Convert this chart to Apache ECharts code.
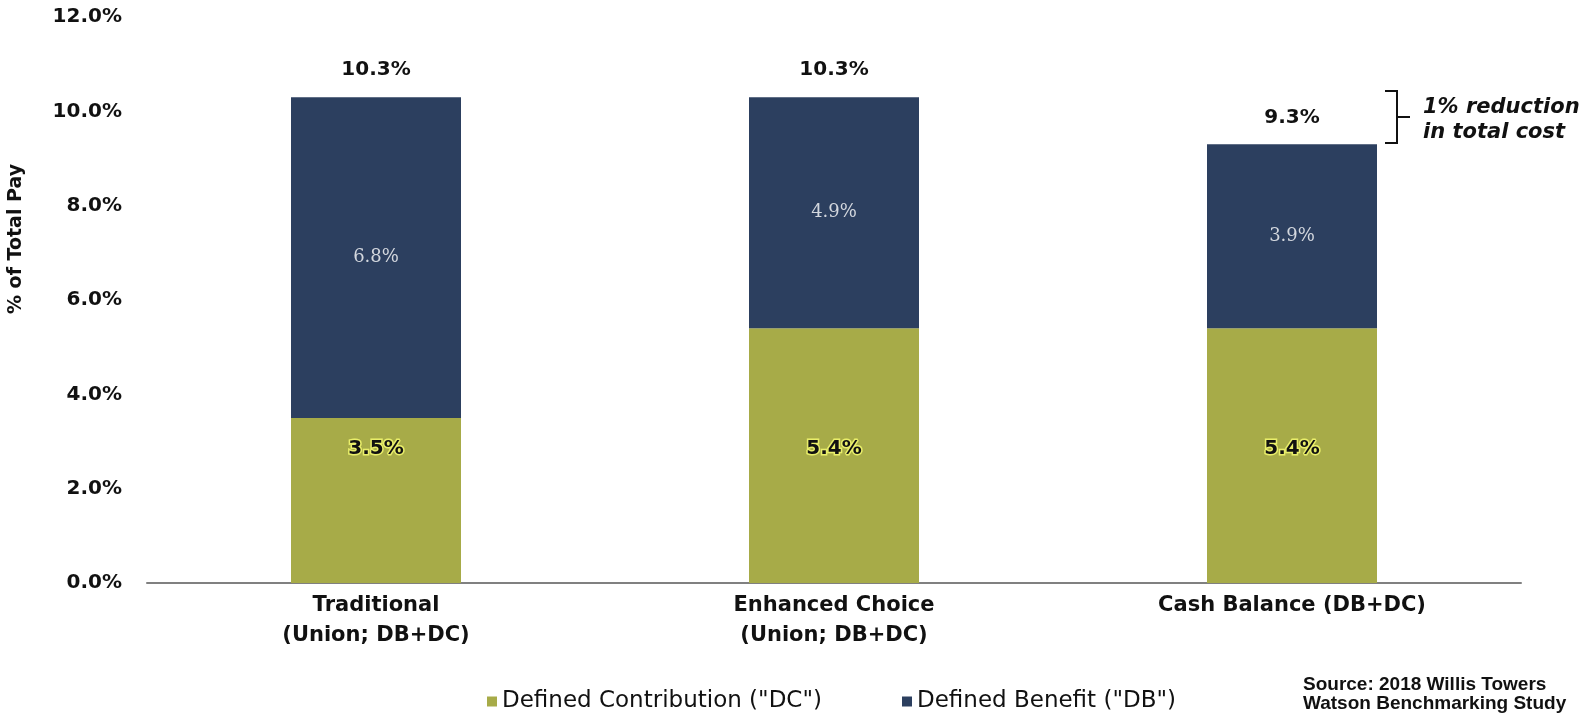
<!DOCTYPE html>
<html>
<head>
<meta charset="utf-8">
<script src="https://cdn.jsdelivr.net/npm/echarts@6/dist/echarts.min.js"></script>
<style>
html,body{margin:0;padding:0;background:#fff;}
#chart{width:1591px;height:719px;}
</style>
</head>
<body>
<div id="chart"></div>
<script>
const categories = ['Traditional\n(Union; DB+DC)', 'Enhanced Choice\n(Union; DB+DC)', 'Cash Balance (DB+DC)'];
const dcValues = [3.5, 5.4, 5.4];
const dbValues = [6.8, 4.9, 3.9];
const yTicks = [0, 2, 4, 6, 8, 10, 12];
const legendNames = ['Defined Contribution ("DC")', 'Defined Benefit ("DB")'];
const annotationLines = ['1% reduction', 'in total cost'];
const sourceLines = ['Source: 2018 Willis Towers', 'Watson Benchmarking Study'];
const axisTitle = '% of Total Pay';

const totals = dcValues.map((v, i) => +(v + dbValues[i]).toFixed(1));

const NAVY = '#2c3f5f';
const OLIVE = '#a7ab48';
const FONT = 'DejaVu Sans';

const chart = echarts.init(document.getElementById('chart'), null, {renderer: 'canvas'});
chart.setOption({
  animation: false,
  backgroundColor: '#ffffff',
  grid: {left: 147, right: 70, top: 17, bottom: 136, containLabel: false},
  legend: {
    data: legendNames,
    left: 482, top: 685,
    itemWidth: 10, itemHeight: 10, itemGap: 80,
    icon: 'rect',
    textStyle: {fontFamily: FONT, fontSize: 23, color: '#111'}
  },
  xAxis: {
    type: 'category',
    data: categories,
    axisLine: {show: true, lineStyle: {color: '#808080', width: 2}},
    axisTick: {show: false},
    axisLabel: {
      margin: 8, fontFamily: FONT, fontWeight: 'bold', fontSize: 21,
      lineHeight: 30, color: '#111', interval: 0
    }
  },
  yAxis: {
    type: 'value',
    min: yTicks[0], max: yTicks[yTicks.length - 1], interval: yTicks[1] - yTicks[0],
    splitLine: {show: false},
    axisLine: {show: false},
    axisTick: {show: false},
    axisLabel: {
      margin: 25, fontFamily: FONT, fontWeight: 'bold', fontSize: 20, color: '#111',
      formatter: v => v.toFixed(1) + '%'
    }
  },
  series: [
    {
      name: legendNames[0], type: 'bar', stack: 'total', barWidth: 170,
      data: dcValues,
      itemStyle: {color: OLIVE},
      label: {
        show: true, position: 'insideBottom', distance: 124,
        fontFamily: FONT, fontWeight: 'bold', fontSize: 20, color: '#111',
        textBorderColor: '#e9ee6a', textBorderWidth: 3,
        formatter: p => p.value.toFixed(1) + '%'
      }
    },
    {
      name: legendNames[1], type: 'bar', stack: 'total', barWidth: 170,
      data: dbValues,
      itemStyle: {color: NAVY},
      label: {
        show: true, position: 'inside',
        fontFamily: 'DejaVu Serif', fontSize: 18, color: '#d3d7de',
        formatter: p => p.value.toFixed(1) + '%'
      }
    },
    {
      name: 'Total', type: 'scatter', data: totals, symbolSize: 0,
      itemStyle: {opacity: 1},
      label: {
        show: true, position: 'top', distance: 17,
        fontFamily: FONT, fontWeight: 'bold', fontSize: 20, color: '#111',
        formatter: p => p.value.toFixed(1) + '%'
      },
      tooltip: {show: false}
    }
  ],
  graphic: [
    {
      type: 'text', x: 16, y: 239, rotation: Math.PI / 2,
      style: {text: axisTitle, fontFamily: FONT, fontWeight: 'bold', fontSize: 19, fill: '#111',
        textAlign: 'center', textVerticalAlign: 'middle'}
    },
    {
      type: 'polyline',
      shape: {points: [[1385, 91], [1397, 91], [1397, 143], [1385, 143]]},
      style: {stroke: '#111', lineWidth: 2, fill: null}
    },
    {
      type: 'line', shape: {x1: 1397, y1: 117, x2: 1410, y2: 117},
      style: {stroke: '#111', lineWidth: 2}
    },
    {
      type: 'text', x: 1423, y: 108,
      style: {text: annotationLines[0], fontFamily: FONT, fontWeight: 'bold', fontStyle: 'italic',
        fontSize: 21, fill: '#111', textVerticalAlign: 'middle'}
    },
    {
      type: 'text', x: 1423, y: 133,
      style: {text: annotationLines[1], fontFamily: FONT, fontWeight: 'bold', fontStyle: 'italic',
        fontSize: 21, fill: '#111', textVerticalAlign: 'middle'}
    },
    {
      type: 'text', x: 1303, y: 685,
      style: {text: sourceLines[0], fontFamily: 'Liberation Sans', fontWeight: 'bold',
        fontSize: 19, fill: '#111', textVerticalAlign: 'middle'}
    },
    {
      type: 'text', x: 1303, y: 704,
      style: {text: sourceLines[1], fontFamily: 'Liberation Sans', fontWeight: 'bold',
        fontSize: 19, fill: '#111', textVerticalAlign: 'middle'}
    }
  ]
});
</script>
</body>
</html>
